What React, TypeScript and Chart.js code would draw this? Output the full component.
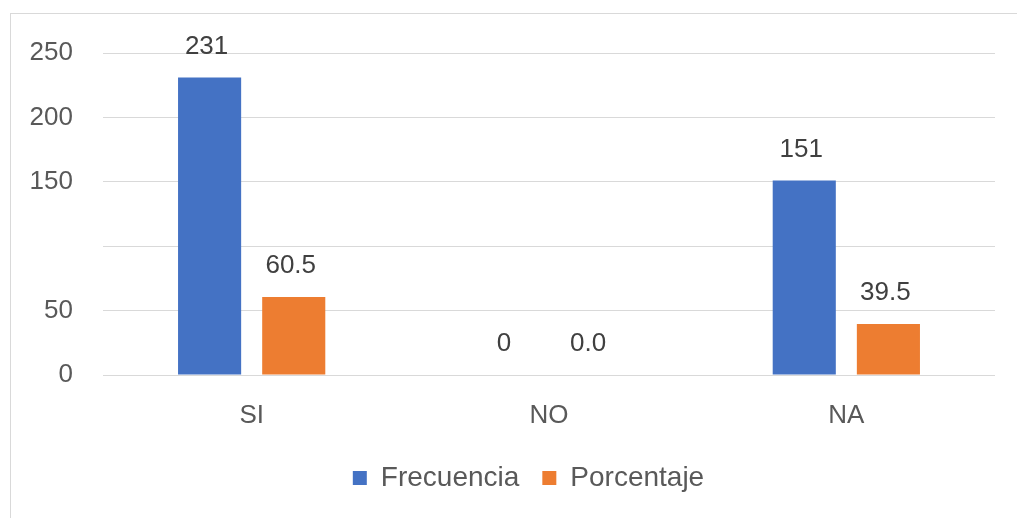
import React, { useEffect, useRef } from "react";
import { Chart, registerables } from "chart.js";

Chart.register(...registerables);

const categories = ["SI", "NO", "NA"];
const frecuencia = [231, 0, 151];
const porcentaje = [60.5, 0.0, 39.5];
const yTickLabels = ["0", "50", "", "150", "200", "250"];
const seriesNames = ["Frecuencia", "Porcentaje"];

const FONT = "'Liberation Sans', Arial, sans-serif";

const dataLabelPlugin = {
  id: "dataLabels",
  afterDatasetsDraw(chart: any) {
    const ctx = chart.ctx;
    ctx.save();
    ctx.font = `26px ${FONT}`;
    ctx.fillStyle = "#404040";
    ctx.textAlign = "center";
    ctx.textBaseline = "middle";
    chart.data.datasets.forEach((ds: any, di: number) => {
      const meta = chart.getDatasetMeta(di);
      meta.data.forEach((el: any, i: number) => {
        const v = ds.data[i];
        const txt = di === 0 ? String(Math.round(v)) : v.toFixed(1);
        ctx.fillText(txt, el.x - 3, el.y - 31);
      });
    });
    ctx.restore();
  },
};

const legendShiftPlugin = {
  id: "legendShift",
  afterLayout(chart: any) {
    const lg = chart.legend;
    if (lg) {
      lg.left += 31;
      lg.right += 31;
    }
  },
};

export default function App() {
  const ref = useRef<HTMLCanvasElement>(null);
  useEffect(() => {
    if (!ref.current) return;
    const chart = new Chart(ref.current, {
      type: "bar",
      data: {
        labels: categories,
        datasets: [
          {
            label: seriesNames[0],
            data: frecuencia,
            backgroundColor: "#4472C4",
            categoryPercentage: 0.566,
            barPercentage: 0.75,
          },
          {
            label: seriesNames[1],
            data: porcentaje,
            backgroundColor: "#ED7D31",
            categoryPercentage: 0.566,
            barPercentage: 0.75,
          },
        ],
      },
      options: {
        responsive: false,
        animation: false,
        layout: { padding: { left: 0, right: 22, top: 53, bottom: 16 } },
        plugins: {
          legend: {
            position: "bottom",
            labels: {
              font: { family: FONT, size: 28 },
              color: "#595959",
              boxWidth: 14,
              boxHeight: 14,
              padding: 23,
            },
          },
          tooltip: { enabled: false },
        },
        scales: {
          x: {
            grid: { display: false, drawTicks: false },
            border: { display: false },
            ticks: {
              font: { family: FONT, size: 26 },
              color: "#595959",
              padding: 25,
            },
            afterFit: (s: any) => {
              s.height = 66;
            },
          },
          y: {
            min: 0,
            max: 250,
            grid: { color: "#d9d9d9", lineWidth: 1, drawTicks: false },
            border: { display: false },
            ticks: {
              stepSize: 50,
              font: { family: FONT, size: 26 },
              color: "#595959",
              padding: 30,
              callback: (_v: any, i: number) => yTickLabels[i],
            },
            afterFit: (s: any) => {
              s.width = 103;
            },
          },
        },
      },
      plugins: [dataLabelPlugin, legendShiftPlugin],
    });
    return () => chart.destroy();
  }, []);

  return (
    <div
      style={{
        position: "fixed",
        left: 0,
        top: 0,
        width: 1017,
        height: 518,
        overflow: "hidden",
        background: "#ffffff",
      }}
    >
      <div
        style={{
          position: "absolute",
          left: 10,
          top: 13,
          width: 1100,
          height: 600,
          border: "1px solid #d9d9d9",
        }}
      />
      <canvas
        ref={ref}
        width={1017}
        height={518}
        style={{ position: "absolute", left: 0, top: 0 }}
      />
    </div>
  );
}
